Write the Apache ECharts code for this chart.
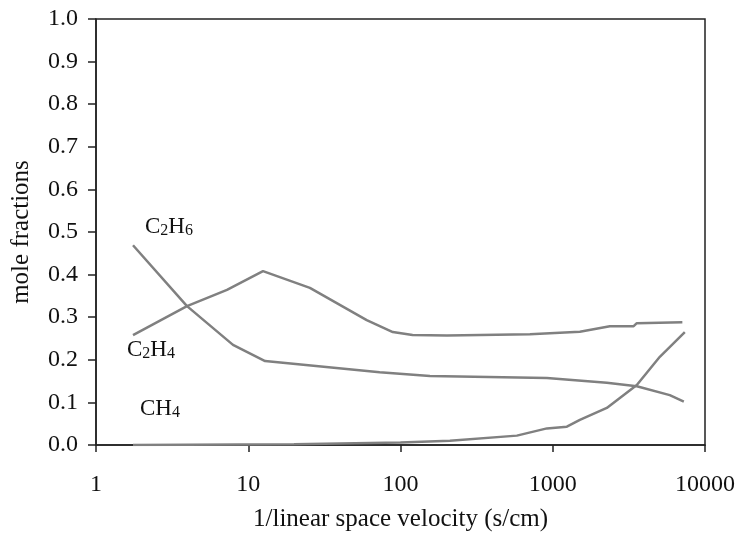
<!DOCTYPE html>
<html><head><meta charset="utf-8">
<script src="https://cdn.jsdelivr.net/npm/echarts@6/dist/echarts.min.js"></script>
<style>html,body{margin:0;padding:0;background:#fff}#c{width:736px;height:540px}</style>
</head><body><div id="c"></div>
<script>
var xTicks = [1, 10, 100, 1000, 10000];
var yTicks = [0, 0.1, 0.2, 0.3, 0.4, 0.5, 0.6, 0.7, 0.8, 0.9, 1.0];
var c2h6X = [1.75, 3.96, 7.94, 12.9, 73, 156, 915, 2265, 3566, 5870, 7260];
var c2h6Y = [0.469, 0.326, 0.235, 0.197, 0.171, 0.162, 0.157, 0.146, 0.138, 0.117, 0.102];
var c2h4X = [1.75, 3.96, 7.25, 12.5, 25.4, 60, 89, 120, 202, 708, 1507, 2371, 3400, 3566, 7100];
var c2h4Y = [0.258, 0.326, 0.364, 0.408, 0.369, 0.293, 0.265, 0.258, 0.257, 0.260, 0.266, 0.279, 0.279, 0.286, 0.288];
var ch4X = [1.75, 20, 100, 211, 581, 915, 1238, 1507, 2265, 3566, 5050, 7370];
var ch4Y = [0.0, 0.002, 0.006, 0.010, 0.022, 0.039, 0.043, 0.059, 0.087, 0.141, 0.207, 0.265];

function pairs(xs, ys){ return xs.map(function(x,i){ return [x, ys[i]]; }); }
var font = '"Liberation Serif", "DejaVu Serif", serif';
var lineStyle = {color:'#808080', width:2.5};
var rich = {n:{fontFamily:font,fontSize:23,fill:'#111'}, s:{fontFamily:font,fontSize:16,fill:'#111',padding:[9,0,0,0]}};

var chart = echarts.init(document.getElementById('c'));
chart.setOption({
  animation:false,
  backgroundColor:'#fff',
  grid:{left:96, top:19, right:31, bottom:95, outerBoundsMode:'none', containLabel:false, show:true, borderColor:'#222', borderWidth:1.5, backgroundColor:'transparent'},
  xAxis:{
    type:'log', logBase:10, min:xTicks[0], max:xTicks[xTicks.length-1],
    name:'1/linear space velocity (s/cm)', nameLocation:'middle', nameGap:62,
    nameTextStyle:{fontFamily:font, fontSize:25, color:'#111'},
    axisLine:{lineStyle:{color:'#222', width:1.5}},
    axisTick:{show:true, inside:false, length:7, lineStyle:{color:'#222', width:1.5}},
    minorTick:{show:false},
    splitLine:{show:false},
    axisLabel:{margin:28, fontFamily:font, fontSize:24, color:'#111', formatter:function(v){return String(Math.round(v));}}
  },
  yAxis:{
    type:'value', min:yTicks[0], max:yTicks[yTicks.length-1], interval:0.1,
    name:'mole fractions', nameLocation:'middle', nameGap:62, nameRotate:90,
    nameTextStyle:{fontFamily:font, fontSize:25, color:'#111'},
    axisLine:{show:true, lineStyle:{color:'#222', width:1.5}},
    axisTick:{show:true, inside:false, length:8, lineStyle:{color:'#222', width:1.5}},
    splitLine:{show:false},
    axisLabel:{margin:18, fontFamily:font, fontSize:24, color:'#111', formatter:function(v){return v.toFixed(1);}}
  },
  series:[
    {type:'line', name:'C2H6', data:pairs(c2h6X,c2h6Y), showSymbol:false, lineStyle:lineStyle, z:3},
    {type:'line', name:'C2H4', data:pairs(c2h4X,c2h4Y), showSymbol:false, lineStyle:lineStyle, z:3},
    {type:'line', name:'CH4', data:pairs(ch4X,ch4Y), showSymbol:false, lineStyle:lineStyle, z:3}
  ],
  graphic:[
    {type:'text', left:145, top:215, style:{text:'{n|C}{s|2}{n|H}{s|6}', rich:rich}},
    {type:'text', left:127, top:338, style:{text:'{n|C}{s|2}{n|H}{s|4}', rich:rich}},
    {type:'text', left:140, top:397, style:{text:'{n|CH}{s|4}', rich:rich}}
  ]
});
</script></body></html>
